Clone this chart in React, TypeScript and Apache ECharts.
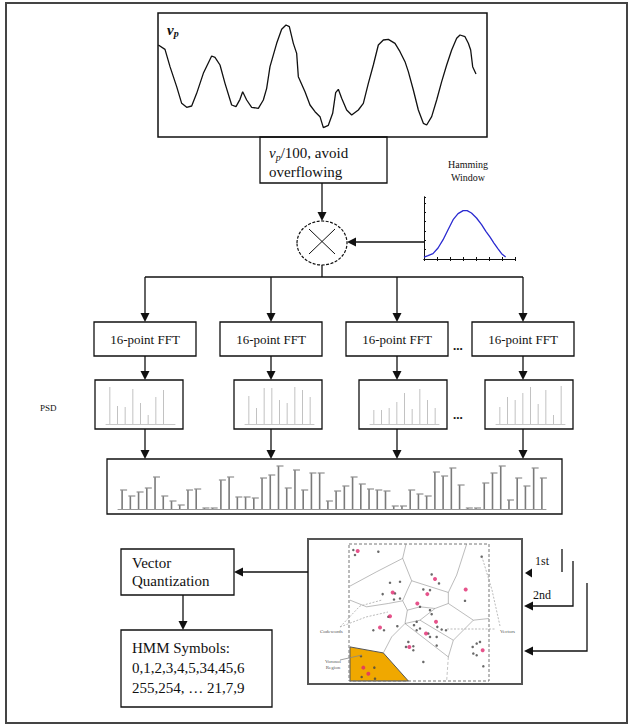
import React, { useEffect, useRef } from 'react';
import * as echarts from 'echarts';

// ---------- data ----------
// raw pitch/velocity signal v_p (time, value read in picture units; y grows downwards)
const signalT = [25, 45, 60, 80, 95, 110, 125, 140, 160, 185, 195, 210, 225, 245, 258, 270, 278, 290, 305, 325, 340, 350, 360, 380, 395, 408, 418, 430, 440, 445, 465, 480, 495, 510, 520, 535, 548, 557, 565, 575, 590, 605, 625, 640, 655, 670, 685, 700, 715, 735, 750, 765, 775, 790, 805, 820, 830, 845, 860, 875, 890, 905, 920, 930, 945, 955, 962, 968, 978];
const signalV = [135, 148, 200, 260, 310, 322, 318, 280, 220, 168, 172, 195, 250, 315, 320, 298, 275, 300, 322, 325, 300, 265, 200, 130, 88, 75, 80, 130, 160, 230, 275, 315, 335, 350, 383, 376, 340, 278, 268, 295, 330, 345, 330, 310, 250, 195, 135, 120, 118, 130, 155, 185, 215, 270, 330, 370, 375, 350, 300, 245, 195, 150, 115, 105, 110, 130, 150, 200, 222];

// Hamming window inset
const hammingX = [0, 0.31, 0.69, 1.08, 1.47, 1.85, 2.24, 2.62, 3.01, 3.32, 3.65, 4.04, 4.43, 4.76, 5.07, 5.38, 5.71, 5.97, 6.28];
const hammingY = [0.21, 0.36, 0.57, 1.18, 2.07, 3.14, 4.21, 4.86, 5.18, 5.18, 4.93, 4.39, 3.68, 2.96, 2.36, 1.71, 1.07, 0.57, 0.21];

// four small PSD frames
const psd1 = [37, 18, 17, 35, 21, 9, 27, 34];
const psd2 = [28, 16, 36, 36, 24, 21, 37, 34, 27];
const psd3 = [14, 14, 16, 22, 31, 15, 35, 24, 16];
const psd4 = [17, 27, 24, 31, 37, 20, 34, 9, 38];

// concatenated PSD vector
const concatPsd = [19, 13, 17, 21, 32, 13, 8, 4, 19, 20, 1, 1, 29, 32, 12, 12, 11, 31, 34, 43, 21, 39, 19, 36, 36, 8, 18, 23, 32, 25, 20, 19, 18, 3, 3, 19, 15, 13, 37, 33, 41, 24, 1, 1, 26, 36, 43, 9, 31, 23, 41, 31];

// Voronoi diagram (picture units, y grows downwards)
const voronoiEdges = [
  [[150, 198], [230, 155], [308, 115], [318, 72]],
  [[308, 115], [335, 182], [445, 217], [470, 165], [500, 72]],
  [[335, 182], [322, 210], [308, 242]],
  [[150, 240], [200, 260], [265, 250], [308, 242]],
  [[308, 242], [322, 270], [315, 310], [275, 350], [250, 398]],
  [[322, 270], [360, 260], [405, 265], [445, 250], [445, 217]],
  [[405, 265], [360, 300], [315, 310]],
  [[445, 250], [520, 300], [567, 295]],
  [[360, 300], [460, 360], [520, 300]],
  [[315, 310], [445, 410], [460, 360]],
];
const voronoiDashedEdges = [[[445, 410], [440, 482]]];
const orangeRegion = [[150, 380], [250, 398], [325, 482], [150, 482]];
const codewords = [[173, 93], [405, 177], [278, 217], [382, 222], [497, 208], [352, 250], [270, 288], [240, 322], [408, 305], [378, 340], [328, 380], [548, 390], [190, 442], [205, 460]];
const vectors = [[160, 90], [165, 105], [235, 95], [545, 110], [395, 163], [417, 190], [270, 188], [300, 185], [285, 220], [248, 222], [282, 238], [300, 235], [370, 208], [390, 210], [495, 242], [360, 260], [390, 270], [395, 282], [265, 290], [292, 318], [220, 330], [252, 330], [412, 320], [425, 328], [438, 330], [350, 305], [342, 315], [350, 330], [360, 325], [385, 340], [390, 350], [410, 350], [410, 376], [325, 365], [318, 380], [340, 378], [340, 390], [518, 380], [530, 370], [540, 365], [530, 405], [520, 400], [550, 438], [183, 408], [223, 442], [185, 470], [225, 475], [370, 425]];

// texts
const fftLabel = '16-point FFT';
const vqLines = ['Vector', 'Quantization'];
const hmmLines = ['HMM Symbols:', '0,1,2,3,4,5,34,45,6', '255,254, \u2026 21,7,9'];

// ---------- layout ----------
const SERIF = '"Liberation Serif", "Times New Roman", serif';
const INK = '#111';
const colX = [145, 271, 397, 523];
const fftLeft = [94, 220, 346, 472];
const psdLeft = [95, 234, 359, 485];

function headDown(x: number, y: number) {
  return { type: 'polygon', z: 50, shape: { points: [[x, y], [x - 4.5, y - 9], [x + 4.5, y - 9]] }, style: { fill: INK } };
}
function headLeft(x: number, y: number, len = 9) {
  return { type: 'polygon', z: 50, shape: { points: [[x, y], [x + len, y - 4.5], [x + len, y + 4.5]] }, style: { fill: INK } };
}
function seg(pts: number[][], color = INK, w = 1.3, dash?: number[], z = 40) {
  return { type: 'polyline', z, shape: { points: pts }, style: { stroke: color, lineWidth: w, fill: 'none', lineDash: dash } };
}
function box(x: number, y: number, w: number, h: number, color = INK, lw = 1.3, dash?: number[]) {
  return { type: 'rect', z: 40, shape: { x, y, width: w, height: h }, style: { fill: 'none', stroke: color, lineWidth: lw, lineDash: dash } };
}
function txt(x: number, y: number, text: string, size: number, extra: any = {}) {
  const weight = extra.fontWeight || 'normal';
  return {
    type: 'text', z: 60, x, y,
    style: {
      text, font: `${weight} ${size}px ${SERIF}`, fontSize: size, fontFamily: SERIF,
      fill: INK, textVerticalAlign: 'middle', ...extra,
    },
  };
}

export default function App() {
  const ref = useRef<HTMLDivElement>(null);

  useEffect(() => {
    if (!ref.current) return;
    const chart = echarts.init(ref.current, undefined, { renderer: 'svg' });

    const psds = [psd1, psd2, psd3, psd4];
    const gridBase = { outerBoundsMode: 'none', containLabel: false, show: false };
    const grids: any[] = [
      { ...gridBase, left: 158, top: 13, width: 329, height: 124 },
      { ...gridBase, left: 424, top: 197, width: 91, height: 62 },
      ...psdLeft.map((l) => ({ ...gridBase, left: l + 11, top: 385, width: 69, height: 39 })),
      { ...gridBase, left: 118, top: 464, width: 428, height: 45 },
      { ...gridBase, left: 349, top: 544, width: 140, height: 137 },
    ];
    const hid = { show: false };
    const xAxes: any[] = [
      { gridIndex: 0, type: 'value', min: 24, max: 1011, show: false },
      {
        gridIndex: 1, type: 'value', min: 0, max: 7, interval: 1, position: 'bottom',
        axisLine: { show: true, lineStyle: { color: INK, width: 1 } },
        axisTick: { show: true, inside: true, length: 2, lineStyle: { color: INK } },
        axisLabel: hid, splitLine: hid,
      },
      {
        gridIndex: 1, type: 'value', min: 0, max: 7, interval: 1, position: 'top',
        axisLine: { show: true, lineStyle: { color: INK, width: 1 } },
        axisTick: { show: true, inside: true, length: 2, lineStyle: { color: INK } },
        axisLabel: hid, splitLine: hid,
      },
      ...psds.map((_, k) => ({
        gridIndex: 2 + k, type: 'category', data: Array.from({ length: 9 }, (_, i) => String(i)),
        axisLine: { show: true, lineStyle: { color: '#c8c8c8', width: 1 } },
        axisTick: hid, axisLabel: hid, splitLine: hid,
      })),
      {
        gridIndex: 6, type: 'category', data: concatPsd.map((_, i) => String(i)),
        axisLine: { show: true, lineStyle: { color: '#999', width: 1 } },
        axisTick: hid, axisLabel: hid, splitLine: hid,
      },
      { gridIndex: 7, type: 'value', min: 147, max: 567, show: false },
    ];
    const yAxes: any[] = [
      { gridIndex: 0, type: 'value', min: 39, max: 411, inverse: true, show: false },
      {
        gridIndex: 1, type: 'value', min: 0, max: 6.64, interval: 1, position: 'left',
        axisLine: { show: true, lineStyle: { color: INK, width: 1 } },
        axisTick: { show: true, inside: true, length: 2, lineStyle: { color: INK } },
        axisLabel: hid, splitLine: hid,
      },
      {
        gridIndex: 1, type: 'value', min: 0, max: 6.64, interval: 1, position: 'right',
        axisLine: { show: true, lineStyle: { color: INK, width: 1 } },
        axisTick: hid, axisLabel: hid, splitLine: hid,
      },
      ...psds.map((_, k) => ({ gridIndex: 2 + k, type: 'value', min: 0, max: 39, show: false })),
      { gridIndex: 6, type: 'value', min: 0, max: 45, show: false },
      { gridIndex: 7, type: 'value', min: 72, max: 482, inverse: true, show: false },
    ];

    const series: any[] = [
      {
        type: 'line', xAxisIndex: 0, yAxisIndex: 0, showSymbol: false, silent: true,
        data: signalT.map((t, i) => [t, signalV[i]]),
        lineStyle: { color: INK, width: 1.3 },
      },
      {
        type: 'line', xAxisIndex: 1, yAxisIndex: 1, showSymbol: false, silent: true,
        data: hammingX.map((x, i) => [x, hammingY[i]]),
        lineStyle: { color: '#2a2ad0', width: 1.3 },
      },
      ...psds.map((d, k) => ({
        type: 'bar', xAxisIndex: 3 + k, yAxisIndex: 3 + k, barWidth: 1, silent: true,
        data: d, itemStyle: { color: '#c2c2c2' },
      })),
      {
        type: 'custom', xAxisIndex: 7, yAxisIndex: 7, silent: true,
        data: concatPsd.map((v, i) => [i, v]),
        renderItem: (_p: any, api: any) => {
          const top = api.coord([api.value(0), api.value(1)]);
          const base = api.coord([api.value(0), 0]);
          return {
            type: 'group',
            children: [
              { type: 'line', shape: { x1: top[0], y1: top[1], x2: base[0], y2: base[1] }, style: { stroke: '#7a7a7a', lineWidth: 1.6 } },
              { type: 'line', shape: { x1: top[0] - 2, y1: top[1], x2: top[0] + 5, y2: top[1] }, style: { stroke: '#8f8f8f', lineWidth: 1.2 } },
            ],
          };
        },
      },
      {
        type: 'custom', xAxisIndex: 8, yAxisIndex: 8, silent: true, data: [[0]], z: 1,
        renderItem: (_p: any, api: any) => ({
          type: 'polygon',
          shape: { points: orangeRegion.map((p) => api.coord(p)) },
          style: { fill: '#f0a800', stroke: '#555', lineWidth: 1 },
        }),
      },
      {
        type: 'lines', coordinateSystem: 'cartesian2d', xAxisIndex: 8, yAxisIndex: 8, polyline: true, silent: true,
        data: voronoiEdges.map((c) => ({ coords: c })),
        lineStyle: { color: '#7a7a7a', width: 1 },
      },
      {
        type: 'lines', coordinateSystem: 'cartesian2d', xAxisIndex: 8, yAxisIndex: 8, polyline: true, silent: true,
        data: voronoiDashedEdges.map((c) => ({ coords: c })),
        lineStyle: { color: '#8a8a8a', width: 1, type: [3, 2] },
      },
      {
        type: 'scatter', xAxisIndex: 8, yAxisIndex: 8, silent: true, symbolSize: 2.5,
        data: vectors, itemStyle: { color: '#444' },
      },
      {
        type: 'scatter', xAxisIndex: 8, yAxisIndex: 8, silent: true, symbolSize: 4,
        data: codewords, itemStyle: { color: '#e0286e' },
      },
    ];

    const g: any[] = [];
    // outer frame
    g.push(box(6, 3, 621, 720, '#444', 2));
    // signal frame + label
    g.push(box(158, 13, 329, 124, INK, 1.5));
    g.push({
      type: 'text', z: 60, x: 167, y: 22,
      style: {
        text: '{v|v}{p|p}', fontFamily: SERIF, fill: INK,
        rich: { v: { fontSize: 15, fontStyle: 'italic', fontWeight: 'bold', fontFamily: SERIF }, p: { fontSize: 10, fontStyle: 'italic', fontWeight: 'bold', fontFamily: SERIF, verticalAlign: 'bottom', padding: [6, 0, 0, 0] } },
      },
    });
    // scaling box
    g.push(box(260, 137, 127, 46));
    g.push({
      type: 'text', z: 60, x: 269, y: 143,
      style: {
        text: '{v|v}{p|p}{n|/100, avoid}\n{n|overflowing}', fontFamily: SERIF, fill: INK, lineHeight: 19,
        rich: {
          v: { fontSize: 15, fontStyle: 'italic', fontFamily: SERIF, lineHeight: 19 },
          p: { fontSize: 10, fontStyle: 'italic', fontFamily: SERIF, verticalAlign: 'bottom', lineHeight: 19 },
          n: { fontSize: 15, fontFamily: SERIF, lineHeight: 19 },
        },
      },
    });
    // arrow to multiplier
    g.push(seg([[322, 183], [322, 213]]));
    g.push(headDown(322, 221));
    // multiplier
    g.push({ type: 'ellipse', z: 45, shape: { cx: 322, cy: 243, rx: 25, ry: 22 }, style: { fill: '#fff', stroke: INK, lineWidth: 1.2, lineDash: [3, 1.5] } });
    g.push(seg([[309, 229], [335, 254]], INK, 1, undefined, 55));
    g.push(seg([[335, 229], [309, 254]], INK, 1, undefined, 55));
    // hamming label + arrow
    g.push(txt(468, 171, 'Hamming\nWindow', 10, { textAlign: 'center', lineHeight: 13 }));
    g.push(seg([[424, 242], [356, 242]]));
    g.push(headLeft(347, 242));
    // distribution bus
    g.push(seg([[322, 265], [322, 277]]));
    g.push(seg([[colX[0], 277], [colX[3], 277]]));
    colX.forEach((x, k) => {
      g.push(seg([[x, 277], [x, 314]]));
      g.push(headDown(x, 322));
      g.push(box(fftLeft[k], 322, 102, 34));
      g.push(txt(fftLeft[k] + 51, 339, fftLabel, 13, { textAlign: 'center' }));
      g.push(seg([[x, 356], [x, 372]]));
      g.push(headDown(x, 380));
      g.push(box(psdLeft[k], 380, 88, 49));
      g.push(seg([[x, 429], [x, 451]]));
      g.push(headDown(x, 459));
    });
    g.push(txt(453, 345, '...', 13, { fontWeight: 'bold' }));
    g.push(txt(453, 414, '...', 13, { fontWeight: 'bold' }));
    g.push(txt(40, 408, 'PSD', 9));
    // concatenated PSD box
    g.push(box(107, 459, 455, 55));
    // Voronoi panel
    g.push(box(308, 539, 214, 145, '#555', 2));
    g.push(box(349, 544, 140, 137, '#777', 1, [3, 2]));
    g.push(seg([[340, 627], [366, 617], [388, 612]], '#aaa', 0.8, [2, 1.5]));
    g.push(seg([[340, 627], [360, 606], [382, 600]], '#aaa', 0.8, [2, 1.5]));
    g.push(seg([[500, 626], [492, 590], [482, 557]], '#aaa', 0.8, [2, 1.5]));
    g.push(seg([[447, 629], [495, 629]], '#aaa', 0.8, [2, 1.5]));
    g.push(seg([[340, 660], [362, 655]], '#888', 0.8));
    g.push(txt(320, 631, 'Codewords', 5, { fill: '#555' }));
    g.push(txt(500, 631, 'Vectors', 5, { fill: '#555' }));
    g.push(txt(333, 664, 'Voronoi\nRegion', 5, { fill: '#555', textAlign: 'center', lineHeight: 6 }));
    // feedback arrows
    g.push(txt(535, 561, '1st', 12));
    g.push(seg([[562, 549], [562, 572]]));
    g.push(headLeft(525, 573, 7));
    g.push(txt(533, 595, '2nd', 12));
    g.push(seg([[573, 561], [573, 606], [532, 606]]));
    g.push(headLeft(524, 606));
    g.push(seg([[587, 583], [587, 651], [532, 651]]));
    g.push(headLeft(524, 651));
    // VQ and HMM
    g.push(seg([[308, 572], [242, 572]]));
    g.push(headLeft(234, 572));
    g.push(box(121, 549, 113, 46));
    vqLines.forEach((t, i) => g.push(txt(132, 563 + i * 18, t, 15)));
    g.push(seg([[183, 595], [183, 622]]));
    g.push(headDown(183, 630));
    g.push(box(121, 630, 151, 77));
    hmmLines.forEach((t, i) => g.push(txt(132, 648 + i * 20, t, 15)));

    chart.setOption({
      animation: false,
      backgroundColor: '#fff',
      grid: grids,
      xAxis: xAxes,
      yAxis: yAxes,
      series,
      graphic: { elements: g },
    });
    return () => chart.dispose();
  }, []);

  return <div ref={ref} style={{ position: 'absolute', left: 0, top: 0, width: 633, height: 727 }} />;
}
